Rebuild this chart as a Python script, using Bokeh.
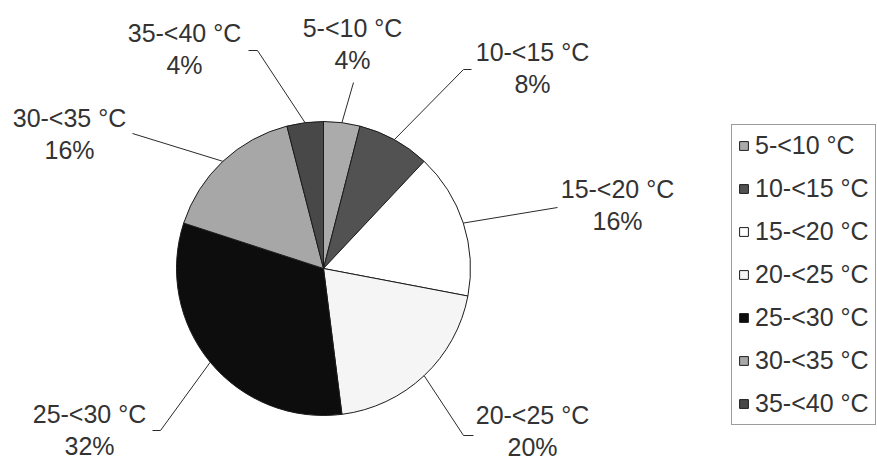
import math

from bokeh.core.properties import value
from bokeh.embed import file_html
from bokeh.models import ColumnDataSource, Legend, LegendItem, Range1d
from bokeh.plotting import figure
from bokeh.resources import INLINE

# Share of hours per temperature band
categories = ["5-<10 °C", "10-<15 °C", "15-<20 °C", "20-<25 °C",
              "25-<30 °C", "30-<35 °C", "35-<40 °C"]
shares = [4, 8, 16, 20, 32, 16, 4]

# Slice fills
colors = ["#ababab", "#525252", "#ffffff", "#f5f5f5", "#0d0d0d", "#a7a7a7", "#484848"]

W, H = 877, 461
CX, CY, R = 323, 268, 147          # pie centre / radius in page pixels (y down)
FONT = "Liberation Sans"
FONT_SIZE = "25px"
TEXT_COLOR = "#333333"

# Label anchors (centre of the first text line, page pixels) and leader-line
# outer points for each slice
label_pos = [(352, 27), (532, 51), (617, 188), (532, 414), (89, 413), (69, 117), (184, 32)]
leader_pts = [
    [(353, 82)],
    [(471, 69), (463, 69)],
    [(557, 207)],
    [(473, 435), (463, 435)],
    [(152, 430), (160, 430)],
    [(132, 133)],
    [(248, 50), (257, 50)],
]
LINE_GAP = 32


def fy(py):
    return H - py


total = sum(shares)
starts, ends, mids = [], [], []
acc = 0.0
for s in shares:
    a0 = acc / total
    acc += s
    a1 = acc / total
    starts.append(math.pi / 2 - 2 * math.pi * a0)
    ends.append(math.pi / 2 - 2 * math.pi * a1)
    mids.append(math.pi / 2 - 2 * math.pi * (a0 + a1) / 2)

src = ColumnDataSource(dict(
    cat=categories, share=shares, color=colors,
    start=starts, end=ends,
))

p = figure(width=W, height=H, output_backend="svg", toolbar_location=None,
           x_range=Range1d(0, W), y_range=Range1d(0, H),
           min_border=0, outline_line_color=None, background_fill_color="white")
p.axis.visible = False
p.grid.visible = False

pie = p.wedge(x=CX, y=fy(CY), radius=R, radius_units="screen",
              start_angle="start", end_angle="end", direction="clock",
              fill_color="color", line_color="#1c1c1c", line_width=1, source=src)

# Leader lines from slice edge to label
xs, ys = [], []
for pts, m in zip(leader_pts, mids):
    ex = CX + R * math.cos(m)
    ey = fy(CY) + R * math.sin(m)
    xs.append([x for x, _ in pts] + [ex])
    ys.append([fy(y) for _, y in pts] + [ey])
p.multi_line(xs=xs, ys=ys, line_color="#2a2a2a", line_width=1)

# Slice labels: band name and percentage
lx = [x for x, _ in label_pos]
p.text(x=lx, y=[fy(y) for _, y in label_pos], text=categories,
       text_align="center", text_baseline="middle",
       text_font=value(FONT), text_font_size=FONT_SIZE, text_color=TEXT_COLOR)
p.text(x=lx, y=[fy(y + LINE_GAP) for _, y in label_pos], text=[f"{s}%" for s in shares],
       text_align="center", text_baseline="middle",
       text_font=value(FONT), text_font_size=FONT_SIZE, text_color=TEXT_COLOR)

items = [LegendItem(label=c, renderers=[pie], index=i) for i, c in enumerate(categories)]
legend = Legend(items=items, location=(731, 36), orientation="vertical",
                glyph_width=11, glyph_height=11, label_height=28, spacing=14,
                padding=6, margin=0, label_standoff=6,
                label_text_font=FONT, label_text_font_size=FONT_SIZE,
                label_text_color=TEXT_COLOR, border_line_color="#3a3a3a",
                border_line_width=1, background_fill_color="white",
                background_fill_alpha=1.0)
p.add_layout(legend, "center")

open("out.html", "w").write(file_html(p, INLINE))
